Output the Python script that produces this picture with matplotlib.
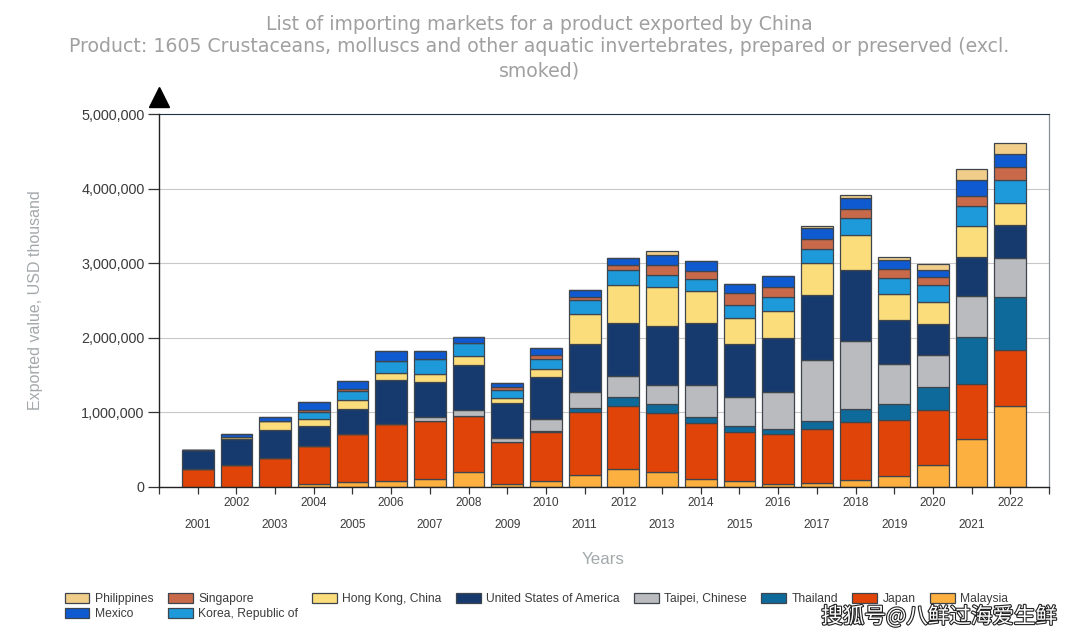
import numpy as np
import matplotlib
matplotlib.use('Agg')
import matplotlib.pyplot as plt
import matplotlib.patheffects as pe

plt.rcParams['font.family'] = ['Liberation Sans', 'DejaVu Sans']

# ── DATA (USD thousand) ─────────────────────────────────────────────────────
years = list(range(2001, 2023))

malaysia    = [0, 0, 0, 36000, 67000, 85000, 112000, 201000, 36000, 80000, 156000, 237000, 197000, 112000, 80000, 40000, 54000, 98000, 143000, 299000, 643000, 1081000]
japan       = [241000, 299000, 389000, 514000, 643000, 755000, 773000, 751000, 567000, 652000, 849000, 844000, 795000, 746000, 657000, 675000, 719000, 773000, 760000, 737000, 742000, 751000]
thailand    = [0, 0, 0, 0, 0, 0, 0, 0, 0, 18000, 54000, 125000, 125000, 80000, 85000, 67000, 107000, 174000, 214000, 304000, 626000, 715000]
taipei      = [0, 0, 0, 0, 0, 0, 58000, 76000, 58000, 165000, 214000, 277000, 250000, 429000, 384000, 487000, 818000, 916000, 536000, 424000, 550000, 527000]
usa         = [259000, 349000, 371000, 268000, 340000, 599000, 465000, 603000, 465000, 559000, 648000, 719000, 791000, 836000, 715000, 724000, 871000, 947000, 590000, 424000, 523000, 438000]
hong_kong   = [0, 22000, 125000, 89000, 112000, 94000, 112000, 121000, 71000, 112000, 393000, 505000, 518000, 420000, 344000, 362000, 433000, 474000, 349000, 295000, 416000, 299000]
korea       = [0, 0, 0, 98000, 125000, 161000, 192000, 179000, 98000, 134000, 188000, 197000, 165000, 170000, 179000, 192000, 192000, 223000, 206000, 228000, 268000, 308000]
singapore   = [0, 0, 0, 22000, 27000, 0, 0, 0, 40000, 45000, 45000, 67000, 130000, 107000, 156000, 130000, 125000, 125000, 130000, 98000, 130000, 170000]
mexico      = [0, 36000, 54000, 116000, 107000, 125000, 107000, 80000, 58000, 98000, 98000, 98000, 143000, 125000, 116000, 156000, 156000, 143000, 116000, 98000, 214000, 179000]
philippines = [0, 0, 0, 0, 0, 0, 0, 0, 0, 0, 0, 0, 45000, 0, 0, 0, 18000, 45000, 40000, 85000, 147000, 143000]

series = [
    ('Malaysia', malaysia, '#FBB040'),
    ('Japan', japan, '#E04408'),
    ('Thailand', thailand, '#0F6A9C'),
    ('Taipei, Chinese', taipei, '#BABBBE'),
    ('United States of America', usa, '#173A6E'),
    ('Hong Kong, China', hong_kong, '#FBDD7C'),
    ('Korea, Republic of', korea, '#1E9ADB'),
    ('Singapore', singapore, '#C8694A'),
    ('Mexico', mexico, '#0F5AD0'),
    ('Philippines', philippines, '#F0CE8A'),
]
legend_order = ['Philippines', 'Mexico', 'Singapore', 'Korea, Republic of', 'Hong Kong, China',
                'United States of America', 'Taipei, Chinese', 'Thailand', 'Japan', 'Malaysia']

title_lines = ['List of importing markets for a product exported by China',
               'Product: 1605 Crustaceans, molluscs and other aquatic invertebrates, prepared or preserved (excl.',
               'smoked)']

# ── PLOT ────────────────────────────────────────────────────────────────────
W, H = 1080, 641
fig = plt.figure(figsize=(W / 100, H / 100), dpi=100)
ax = fig.add_axes([159 / W, (H - 487) / H, 890 / W, 373 / H])

handles = {}
bottom = np.zeros(len(years))
for name, values, color in series:
    values = np.array(values, dtype=float)
    bars = ax.bar(years, values, bottom=bottom, width=0.82, color=color,
                  edgecolor='#3f454c', linewidth=0.9, label=name, zorder=3)
    handles[name] = bars
    bottom += values

ax.set_xlim(2000, 2023)
ax.set_ylim(0, 5000000)
ax.set_yticks(np.arange(0, 5000001, 1000000))
ax.set_yticklabels([f'{v:,}' for v in range(0, 5000001, 1000000)], fontsize=10.4, color='#3c3c3c')
ax.grid(True, axis='y', color='#c8c8c8', linewidth=0.8, zorder=0)
ax.tick_params(axis='y', length=8, width=0.9, color='#333333', pad=2.4)

ax.set_xticks(range(2000, 2024))
ax.set_xticklabels([''] + [str(y) for y in years] + [''], fontsize=8.6, color='#3c3c3c')
ax.tick_params(axis='x', length=5, width=0.9, color='#333333')
for tick, year in zip(ax.xaxis.get_major_ticks(), range(2000, 2024)):
    tick.set_pad(2.2 if year % 2 == 0 else 17.7)

for side in ['left', 'bottom']:
    ax.spines[side].set_color('#222222')
    ax.spines[side].set_linewidth(1.0)
ax.spines['top'].set_color('#1f3346')
ax.spines['top'].set_linewidth(0.8)
ax.spines['right'].set_color('#8a8f96')
ax.spines['right'].set_linewidth(0.9)
ax.spines['left'].set_zorder(5)
ax.spines['bottom'].set_zorder(5)

# arrow head on top of the y axis
ax.plot([0], [1.0456], marker='^', markersize=15, color='black', clip_on=False,
        transform=ax.transAxes, zorder=6)

# ── TEXT ────────────────────────────────────────────────────────────────────
for line, ypx in zip(title_lines, [24, 47, 71]):
    fig.text(539 / W, 1 - ypx / H, line, ha='center', va='center', color='#a0a0a0',
             fontsize=13.55, family='DejaVu Sans')
fig.text(36 / W, 1 - 300 / H, 'Exported value, USD thousand', rotation=90, ha='center', va='center',
         color='#a3a9ab', fontsize=11.5)
fig.text(603 / W, 1 - 560 / H, 'Years', ha='center', va='center', color='#a3a9ab', fontsize=12.2)

leg = fig.legend([handles[n] for n in legend_order], legend_order, ncol=8,
                 loc='upper left', bbox_to_anchor=(55 / W, 1 - 583 / H), frameon=False,
                 fontsize=8.7, handlelength=2.05, handleheight=0.9, handletextpad=0.45,
                 columnspacing=1.18, labelspacing=0.26, borderpad=0.3, labelcolor='#3c3c3c')

fig.text(939 / W, 1 - 617 / H, '搜狐号@八鲜过海爱生鲜', ha='center', va='center', color='white',
         fontsize=15.5, family=['Noto Sans CJK SC', 'DejaVu Sans'],
         path_effects=[pe.withStroke(linewidth=1.6, foreground='#222222')])

fig.savefig('out.png', dpi=100)
